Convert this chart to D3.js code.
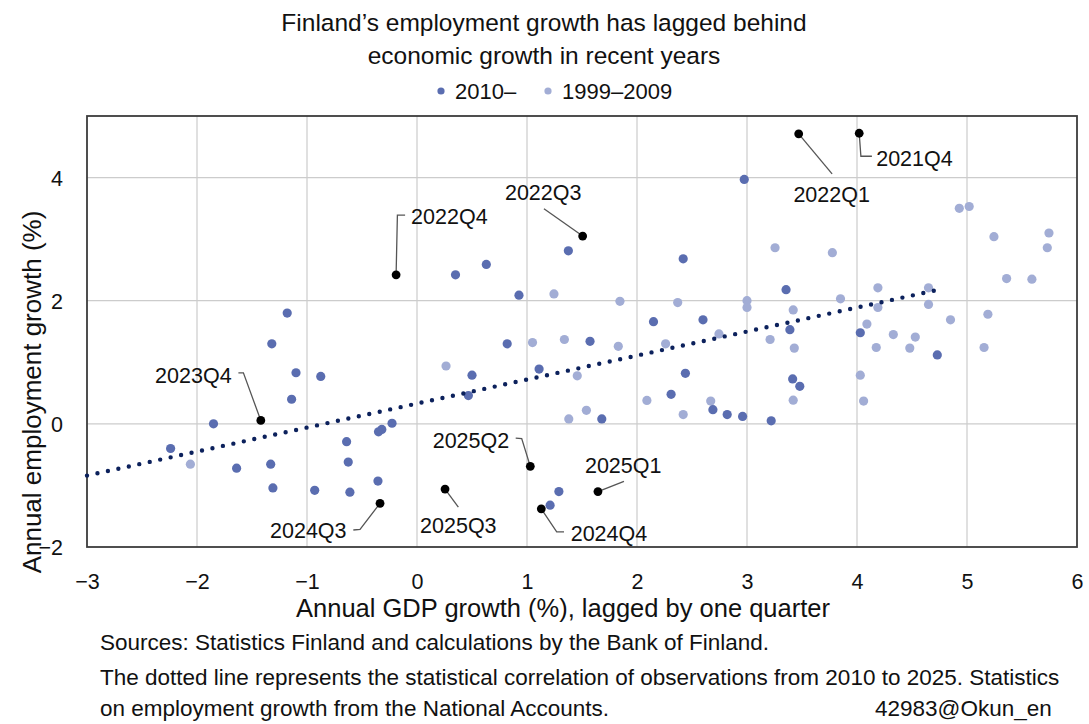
<!DOCTYPE html>
<html>
<head>
<meta charset="utf-8">
<script src="https://cdn.jsdelivr.net/npm/d3@7"></script>
<style>
  body { margin: 0; background: #fff; }
  svg text { font-family: "Liberation Sans", Arial, sans-serif; fill: #111; }
</style>
</head>
<body>
<div class="scatterChart"></div>
<script>
// 2010– observations (GDP growth lagged, employment growth)
var points2010 = [
  [-1.18, 1.80], [-1.32, 1.30], [-1.10, 0.83], [-0.875, 0.77], [-1.14, 0.40],
  [-1.85, 0.00], [-0.227, 0.01], [-0.32, -0.09], [-0.35, -0.13], [-2.24, -0.40],
  [-0.64, -0.29], [-0.625, -0.62], [-1.64, -0.72], [-1.33, -0.655], [-1.31, -1.04],
  [-0.93, -1.08], [-0.61, -1.11], [-0.355, -0.93], [2.975, 3.97], [1.376, 2.81],
  [0.63, 2.59], [0.35, 2.42], [2.42, 2.68], [0.927, 2.09], [2.15, 1.66],
  [2.60, 1.69], [3.355, 2.18], [3.39, 1.53], [4.03, 1.48], [4.73, 1.12],
  [3.415, 0.73], [3.48, 0.61], [3.22, 0.05], [0.82, 1.30], [1.573, 1.34],
  [0.50, 0.79], [1.11, 0.89], [2.44, 0.82], [0.467, 0.46], [2.31, 0.48],
  [2.69, 0.23], [2.82, 0.15], [2.96, 0.12], [1.68, 0.08], [1.29, -1.10],
  [1.21, -1.32]
];

// 1999–2009 observations
var points1999 = [
  [-2.06, -0.655], [2.745, 1.46], [1.245, 2.11], [1.845, 1.99], [2.37, 1.97],
  [3.0, 2.0], [3.0, 1.89], [4.93, 3.50], [5.02, 3.53], [3.255, 2.86],
  [3.776, 2.78], [5.245, 3.04], [5.745, 3.10], [5.73, 2.86], [5.36, 2.36],
  [5.59, 2.35], [4.19, 2.21], [4.65, 2.21], [3.85, 2.03], [3.42, 1.85],
  [4.19, 1.89], [4.65, 1.94], [4.85, 1.69], [5.19, 1.78], [4.09, 1.62],
  [4.33, 1.45], [4.53, 1.41], [3.21, 1.37], [3.43, 1.23], [4.175, 1.24],
  [4.48, 1.23], [5.155, 1.24], [4.03, 0.79], [3.42, 0.385], [4.06, 0.37],
  [1.05, 1.32], [1.34, 1.37], [1.83, 1.26], [2.26, 1.30], [0.264, 0.94],
  [1.457, 0.78], [2.09, 0.38], [2.67, 0.37], [2.42, 0.15], [1.54, 0.22],
  [1.38, 0.08]
];

// highlighted quarters
var quarterNames = ['2021Q4', '2022Q1', '2022Q3', '2022Q4', '2023Q4', '2024Q3', '2024Q4', '2025Q1', '2025Q2', '2025Q3'];
var quarterGdp   = [4.02, 3.47, 1.506, -0.19, -1.42, -0.336, 1.13, 1.645, 1.03, 0.255];
var quarterEmp   = [4.72, 4.71, 3.05, 2.42, 0.055, -1.29, -1.38, -1.10, -0.69, -1.06];

// fitted line for 2010–2025, end points
var trendGdp = [-3, 4.72];
var trendEmp = [-0.84, 2.17];

var xTicks = [-3, -2, -1, 0, 1, 2, 3, 4, 5, 6];
var yTicks = [-2, 0, 2, 4];
var legendNames = ['2010–', '1999–2009'];

var titleLines = ['Finland’s employment growth has lagged behind', 'economic growth in recent years'];
var xTitle = 'Annual GDP growth (%), lagged by one quarter';
var yTitle = 'Annual employment growth (%)';
var footLines = [
  'Sources: Statistics Finland and calculations by the Bank of Finland.',
  'The dotted line represents the statistical correlation of observations from 2010 to 2025. Statistics',
  'on employment growth from the National Accounts.'
];
var chartCode = '42983@Okun_en';

drawScatter();

function drawScatter() {
  var colors = { recent: '#5a6db0', early: '#a2add5', quarter: '#000', trend: '#0c215c' };

  var options = {
    svg: { width: 1089, height: 724 },
    plot: { left: 87, right: 1077, top: 116, bottom: 547 }
  };

  // label placement relative to the point (pixels)
  var labelLayout = {
    '2021Q4': { tx: 17, ty: 25.6, leader: [[0, 0], [1.7, 23], [12.7, 23]] },
    '2022Q1': { tx: -5.3, ty: 60.7, leader: [[0, 0], [33.4, 40]] },
    '2022Q3': { tx: -77.7, ty: -43.3, leader: [[0, 0], [-38.7, -27.3]] },
    '2022Q4': { tx: 15, ty: -58, leader: [[0, 0], [1.3, -59.7], [9, -59.7]] },
    '2023Q4': { tx: -105.7, ty: -44.6, leader: [[0, 0], [-17.4, -47.6], [-22.4, -47.6]] },
    '2024Q3': { tx: -110, ty: 26.7, leader: [[0, 0], [-20, 26], [-26.7, 26.7]] },
    '2024Q4': { tx: 29.4, ty: 24.6, leader: [[0, 0], [15.4, 23], [22.7, 23]] },
    '2025Q1': { tx: -13, ty: -26.3, leader: [[0, 0], [26, -10.3]] },
    '2025Q2': { tx: -97.6, ty: -26, leader: [[0, 0], [-8.6, -27.7], [-14.6, -28.3]] },
    '2025Q3': { tx: -25, ty: 36.3, leader: [[0, 0], [13.3, 18]] }
  };

  var p = options.plot;
  var scaleX = d3.scaleLinear().domain([-3, 6]).range([p.left, p.right]);
  var scaleY = d3.scaleLinear().domain([-2, 5]).range([p.bottom, p.top]);

  var svg = d3.select('.scatterChart').append('svg')
    .attr('width', options.svg.width)
    .attr('height', options.svg.height);

  svg.append('rect')
    .attr('width', options.svg.width)
    .attr('height', options.svg.height)
    .attr('fill', '#fff');

  // title
  svg.selectAll('.title')
    .data(titleLines)
    .enter()
    .append('text')
    .attr('class', 'title')
    .attr('x', 544)
    .attr('y', function(d, i) { return 22 + i * 33; })
    .attr('dy', '0.35em')
    .attr('text-anchor', 'middle')
    .style('font-size', '24.5px')
    .text(function(d) { return d; });

  // legend
  var legendX = [441, 548];
  var legendColors = [colors.recent, colors.early];
  legendNames.forEach(function(name, i) {
    svg.append('circle')
      .attr('cx', legendX[i]).attr('cy', 91).attr('r', 3.6)
      .attr('fill', legendColors[i]);
    svg.append('text')
      .attr('x', legendX[i] + 14).attr('y', 91).attr('dy', '0.35em')
      .style('font-size', '22px')
      .text(name);
  });

  // grid
  svg.append('g').selectAll('line')
    .data(xTicks.slice(1, -1))
    .enter().append('line')
    .attr('x1', function(d) { return scaleX(d); })
    .attr('x2', function(d) { return scaleX(d); })
    .attr('y1', p.top).attr('y2', p.bottom)
    .attr('stroke', '#cccccc').attr('stroke-width', 1.2);

  svg.append('g').selectAll('line')
    .data(yTicks.slice(1))
    .enter().append('line')
    .attr('y1', function(d) { return scaleY(d); })
    .attr('y2', function(d) { return scaleY(d); })
    .attr('x1', p.left).attr('x2', p.right)
    .attr('stroke', '#cccccc').attr('stroke-width', 1.2);

  // axes (labels only)
  var xAxis = d3.axisBottom(scaleX).tickValues(xTicks).tickSize(0).tickFormat(d3.format('d'));
  var gx = svg.append('g')
    .attr('transform', 'translate(0,' + p.bottom + ')')
    .call(xAxis);
  gx.select('.domain').remove();
  gx.selectAll('text')
    .attr('y', 34).attr('dy', '0.35em')
    .style('font-size', '21.5px')
    .attr('fill', '#111');

  var yAxis = d3.axisLeft(scaleY).tickValues(yTicks).tickSize(0).tickFormat(d3.format('d'));
  var gy = svg.append('g')
    .attr('transform', 'translate(' + p.left + ',0)')
    .call(yAxis);
  gy.select('.domain').remove();
  gy.selectAll('text')
    .attr('x', -24).attr('dy', '0.35em')
    .style('font-size', '21.5px')
    .attr('fill', '#111');

  // plot frame
  svg.append('rect')
    .attr('x', p.left).attr('y', p.top)
    .attr('width', p.right - p.left).attr('height', p.bottom - p.top)
    .attr('fill', 'none')
    .attr('stroke', '#3c3c3c')
    .attr('stroke-width', 1.8);

  // points
  svg.append('g').selectAll('circle')
    .data(points1999)
    .enter().append('circle')
    .attr('cx', function(d) { return scaleX(d[0]); })
    .attr('cy', function(d) { return scaleY(d[1]); })
    .attr('r', 4.6)
    .attr('fill', colors.early);

  svg.append('g').selectAll('circle')
    .data(points2010)
    .enter().append('circle')
    .attr('cx', function(d) { return scaleX(d[0]); })
    .attr('cy', function(d) { return scaleY(d[1]); })
    .attr('r', 4.6)
    .attr('fill', colors.recent);

  // trend line
  var valueline = d3.line()
    .x(function(d) { return scaleX(d[0]); })
    .y(function(d) { return scaleY(d[1]); });

  svg.append('path')
    .attr('d', valueline(d3.zip(trendGdp, trendEmp)))
    .attr('fill', 'none')
    .attr('stroke', colors.trend)
    .attr('stroke-width', 4.4)
    .attr('stroke-linecap', 'round')
    .attr('stroke-dasharray', '0 10.7');

  // highlighted quarters with leader lines
  var leader = d3.line();
  quarterNames.forEach(function(q, i) {
    var cx = scaleX(quarterGdp[i]);
    var cy = scaleY(quarterEmp[i]);
    var lay = labelLayout[q];
    svg.append('path')
      .attr('d', leader(lay.leader.map(function(o) { return [cx + o[0], cy + o[1]]; })))
      .attr('fill', 'none')
      .attr('stroke', '#555')
      .attr('stroke-width', 1.3);
    svg.append('circle')
      .attr('cx', cx).attr('cy', cy).attr('r', 4.4)
      .attr('fill', colors.quarter);
    svg.append('text')
      .attr('x', cx + lay.tx).attr('y', cy + lay.ty).attr('dy', '0.35em')
      .style('font-size', '21.5px')
      .text(q);
  });

  // axis titles
  svg.append('text')
    .attr('x', 563).attr('y', 608).attr('dy', '0.35em')
    .attr('text-anchor', 'middle')
    .style('font-size', '25.5px')
    .text(xTitle);

  svg.append('text')
    .attr('transform', 'translate(32,392) rotate(-90)')
    .attr('dy', '0.35em')
    .attr('text-anchor', 'middle')
    .style('font-size', '26px')
    .text(yTitle);

  // footnotes
  svg.selectAll('.foot')
    .data(footLines)
    .enter().append('text')
    .attr('class', 'foot')
    .attr('x', 100)
    .attr('y', function(d, i) { return [642, 677, 708][i]; })
    .attr('dy', '0.35em')
    .style('font-size', '22.5px')
    .text(function(d) { return d; });

  svg.append('text')
    .attr('x', 875).attr('y', 708).attr('dy', '0.35em')
    .style('font-size', '22.5px')
    .text(chartCode);
}
</script>
</body>
</html>
